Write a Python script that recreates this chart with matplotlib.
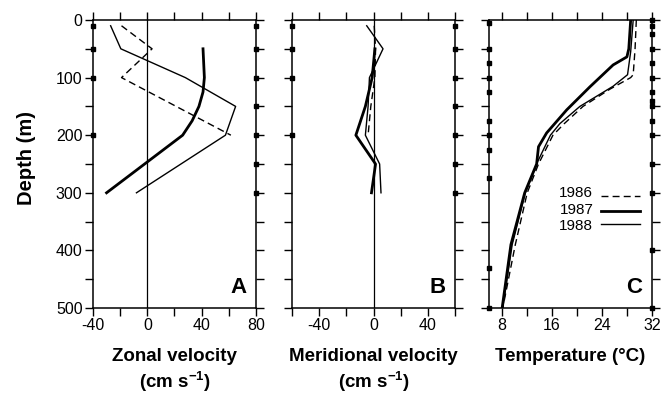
import numpy as np
import matplotlib
matplotlib.use('Agg')
import matplotlib.pyplot as plt
from matplotlib.ticker import MultipleLocator

plt.rcParams['font.family'] = ['Liberation Sans', 'DejaVu Sans']
plt.rcParams['mathtext.fontset'] = 'custom'
plt.rcParams['mathtext.rm'] = 'Liberation Sans'
plt.rcParams['mathtext.bf'] = 'Liberation Sans:bold'
plt.rcParams['axes.unicode_minus'] = False

# Velocidad zonal (cm/s) por año
prof_zonal_86 = [10, 50, 100, 200]
zonal_86 = [-19, 3.5, -19, 61.5]
prof_zonal_87 = [50, 75, 100, 125, 150, 175, 200, 250, 300]
zonal_87 = [41, 41.5, 42, 41, 38, 33, 26, -2, -30]
prof_zonal_88 = [10, 50, 100, 150, 200, 300]
zonal_88 = [-27, -19.5, 28, 65, 57.5, -8]

# Velocidad meridional (cm/s)
prof_mer_86 = [10, 50, 100, 150, 200]
mer_86 = [0.5, 1.5, 1, -2, -4]
prof_mer_87 = [50, 100, 150, 200, 250, 300]
mer_87 = [1, -1, -6, -13, 1.5, -1.5]
prof_mer_88 = [10, 50, 100, 150, 200, 250, 300]
mer_88 = [-5, 7, -3, -4, -6, 4.5, 5.5]

# Temperatura (C)
prof_temp_86 = [0, 50, 95, 100, 120, 150, 180, 200, 250, 300, 390, 500]
temp_86 = [29.5, 29.3, 29.0, 28.6, 25.3, 21.0, 18.0, 16.2, 13.9, 12.1, 10.2, 8.2]
prof_temp_87 = [0, 50, 64, 78, 116, 156, 196, 220, 250, 300, 390, 500]
temp_87 = [28.6, 28.3, 28.0, 25.8, 22.1, 18.4, 15.2, 13.9, 13.6, 11.7, 9.5, 8.1]
prof_temp_88 = [0, 55, 95, 115, 150, 180, 200, 245, 300, 390, 500]
temp_88 = [29.0, 28.6, 28.1, 25.8, 20.5, 17.3, 15.8, 13.8, 11.8, 9.7, 8.2]

# Profundidades de muestreo marcadas sobre los ejes
marcas_izq_vel = [10, 50, 100, 200]
marcas_der_vel = [10, 50, 100, 150, 200, 250, 300]
marcas_izq_temp = [5, 50, 75, 100, 125, 175, 200, 225, 275, 430, 500]
marcas_der_temp = [0, 10, 25, 50, 75, 100, 125, 140, 150, 175, 200, 250, 300, 400, 500]

anios = ['1986', '1987', '1988']
estilos = [dict(ls=(0, (5, 3)), lw=1.0), dict(ls='-', lw=2.0), dict(ls='-', lw=1.0)]

fig = plt.figure(figsize=(6.67, 3.93), dpi=100)
abajo, alto, ancho = 0.2163, 0.7328, 0.2444
ax_a = fig.add_axes([0.1394, abajo, ancho, alto])
ax_b = fig.add_axes([0.4378, abajo, ancho, alto])
ax_c = fig.add_axes([0.7331, abajo, ancho, alto])


def formato(ax, xlim, etiquetas_x, paso_menor, izq, der, letra, etiqueta_y=False):
    ax.set_xlim(*xlim)
    ax.set_ylim(500, 0)
    ax.set_xticks(etiquetas_x)
    ax.xaxis.set_minor_locator(MultipleLocator(paso_menor))
    ax.yaxis.set_major_locator(MultipleLocator(100))
    ax.yaxis.set_minor_locator(MultipleLocator(50))
    for eje in ['top', 'bottom', 'left', 'right']:
        ax.spines[eje].set_linewidth(1.1)
    ax.tick_params(which='both', direction='out', length=6, width=1.0,
                   top=True, right=True, labelsize=11.5, pad=1.5)
    if not etiqueta_y:
        ax.tick_params(labelleft=False)
    # marcas cuadradas sobre los ejes laterales
    ax.plot([xlim[0]] * len(izq), izq, 's', color='k', ms=3.5, clip_on=False, zorder=5)
    ax.plot([xlim[1]] * len(der), der, 's', color='k', ms=3.5, clip_on=False, zorder=5)
    ax.text(0.94, 0.035, letra, transform=ax.transAxes, ha='right', va='bottom',
            fontsize=16, fontweight='bold')


# Panel A
ax_a.axvline(0, color='k', lw=0.9)
for p, v, st in zip([prof_zonal_86, prof_zonal_87, prof_zonal_88],
                    [zonal_86, zonal_87, zonal_88], estilos):
    ax_a.plot(v, p, color='k', **st)
formato(ax_a, (-40, 80), [-40, 0, 40, 80], 20, marcas_izq_vel, marcas_der_vel, 'A', True)

# Panel B
ax_b.axvline(0, color='k', lw=0.9)
for p, v, st in zip([prof_mer_86, prof_mer_87, prof_mer_88],
                    [mer_86, mer_87, mer_88], estilos):
    ax_b.plot(v, p, color='k', **st)
formato(ax_b, (-60, 60), [-40, 0, 40], 20, marcas_izq_vel, marcas_der_vel, 'B')

# Panel C
for p, v, st in zip([prof_temp_86, prof_temp_87, prof_temp_88],
                    [temp_86, temp_87, temp_88], estilos):
    ax_c.plot(v, p, color='k', **st)
formato(ax_c, (6, 32), [8, 16, 24, 32], 4, marcas_izq_temp, marcas_der_temp, 'C')

# leyenda manual
y_txt = [0.398, 0.342, 0.286]
y_lin = [0.390, 0.338, 0.290]
for anio, yt, yl, st in zip(anios, y_txt, y_lin, estilos):
    ax_c.text(0.64, yt, anio, transform=ax_c.transAxes, ha='right', va='center',
              fontsize=11, linespacing=1.0)
    ax_c.plot([0.687, 0.926], [yl, yl], transform=ax_c.transAxes, color='k', **st)

# Etiquetas de ejes
fig.text(26 / 667, 1 - 158 / 393, 'Depth (m)', rotation=90, ha='center', va='center',
         fontsize=14.5, fontweight='bold')
titulos = ['Zonal velocity', 'Meridional velocity', 'Temperature (°C)']
for ax, t in zip([ax_a, ax_b, ax_c], titulos):
    ax.text(0.5, -0.168, t, transform=ax.transAxes, ha='center', va='center',
            fontsize=13.5, fontweight='bold')
for ax in [ax_a, ax_b]:
    ax.text(0.5, -0.255, r'(cm s$^{\mathbf{-1}}$)', transform=ax.transAxes,
            ha='center', va='center', fontsize=13.5, fontweight='bold')

fig.savefig('out.png', dpi=100)
